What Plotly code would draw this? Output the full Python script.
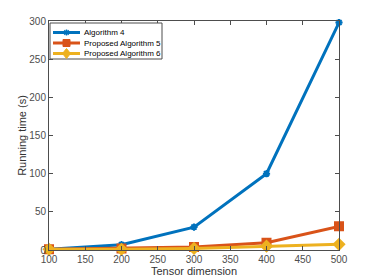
import plotly.graph_objects as go

dims = [100, 200, 300, 400, 500]
alg4 = [1, 7, 30, 100, 298]
alg5 = [1, 2, 4, 9.5, 31]
alg6 = [1, 1, 2, 5, 7.5]
names = ["Algorithm 4", "Proposed Algorithm 5", "Proposed Algorithm 6"]
colors = ["#0072BD", "#D95319", "#EDB120"]
symbols = ["asterisk-open", "square", "diamond"]

# The page body has an 8px default margin, so the figure is drawn offset by (8, 8).
OFF = 8
W, H = 374, 280
# target plot area on screen: x 49..339, y 21..250
L, T = 49 - OFF, 21 - OFF
R = W - (339 - OFF)
B = H - (250 - OFF)
PW, PH = W - L - R, H - T - B


def px(sx):
    return (sx - OFF - L) / PW


def py(sy):
    return (H - B - (sy - OFF)) / PH


fig = go.Figure()
for ys, nm, c, s in zip([alg4, alg5, alg6], names, colors, symbols):
    fig.add_trace(go.Scatter(
        x=dims, y=ys, name=nm, mode="lines+markers",
        line=dict(color=c, width=3),
        marker=dict(symbol=s, size=8 if s != "asterisk-open" else 6, color=c,
                    line=dict(color=c, width=2)),
        cliponaxis=False, showlegend=False,
    ))

font = "Liberation Sans, Arial, Helvetica"
axis_common = dict(
    showline=True, linecolor="#4d4d4d", linewidth=1, mirror="ticks",
    ticks="inside", ticklen=4, tickcolor="#4d4d4d",
    showgrid=False, zeroline=False, automargin=False,
    tickfont=dict(family=font, size=10, color="#4d4d4d"),
)
fig.update_xaxes(range=[100, 500], tickvals=[100, 150, 200, 250, 300, 350, 400, 450, 500],
                 title=dict(text="Tensor dimension", standoff=2,
                            font=dict(family=font, size=11, color="#333")),
                 **axis_common)
fig.update_yaxes(range=[0, 300], tickvals=[0, 50, 100, 150, 200, 250, 300],
                 title=dict(text="Running time (s)", standoff=0,
                            font=dict(family=font, size=11, color="#333")),
                 **axis_common)

# Compact MATLAB-style legend built from shapes and annotations
shapes = [dict(type="rect", xref="paper", yref="paper",
               x0=px(50), x1=px(162), y0=py(23), y1=py(59),
               line=dict(color="#4d4d4d", width=1), fillcolor="white", layer="above")]
annotations = []
rows = [32.5, 43, 53.5]
for nm, c, s, ry in zip(names, colors, symbols, rows):
    shapes.append(dict(type="line", xref="paper", yref="paper",
                       x0=px(53), x1=px(80), y0=py(ry), y1=py(ry),
                       line=dict(color=c, width=3), layer="above"))
    cx = 66.5
    if s == "square":
        shapes.append(dict(type="rect", xref="paper", yref="paper",
                           x0=px(cx - 3.5), x1=px(cx + 3.5), y0=py(ry + 3.5), y1=py(ry - 3.5),
                           line=dict(color=c, width=1), fillcolor=c, layer="above"))
    elif s == "diamond":
        path = "M {} {} L {} {} L {} {} L {} {} Z".format(
            px(cx), py(ry - 5), px(cx + 4), py(ry), px(cx), py(ry + 5), px(cx - 4), py(ry))
        shapes.append(dict(type="path", xref="paper", yref="paper", path=path,
                           line=dict(color=c, width=1), fillcolor=c, layer="above"))
    else:
        for dx, dy in [(3, 0), (0, 3), (2.2, 2.2), (2.2, -2.2)]:
            shapes.append(dict(type="line", xref="paper", yref="paper",
                               x0=px(cx - dx), x1=px(cx + dx), y0=py(ry - dy), y1=py(ry + dy),
                               line=dict(color=c, width=1.5), layer="above"))
    annotations.append(dict(xref="paper", yref="paper", x=px(81.5), y=py(ry),
                            xanchor="left", yanchor="middle", showarrow=False,
                            text=nm, font=dict(family=font, size=8, color="#000")))

fig.update_layout(
    width=W, height=H,
    margin=dict(l=L, r=R, t=T, b=B),
    paper_bgcolor="white", plot_bgcolor="white",
    showlegend=False, shapes=shapes, annotations=annotations,
)

fig.write_html("out.html")
